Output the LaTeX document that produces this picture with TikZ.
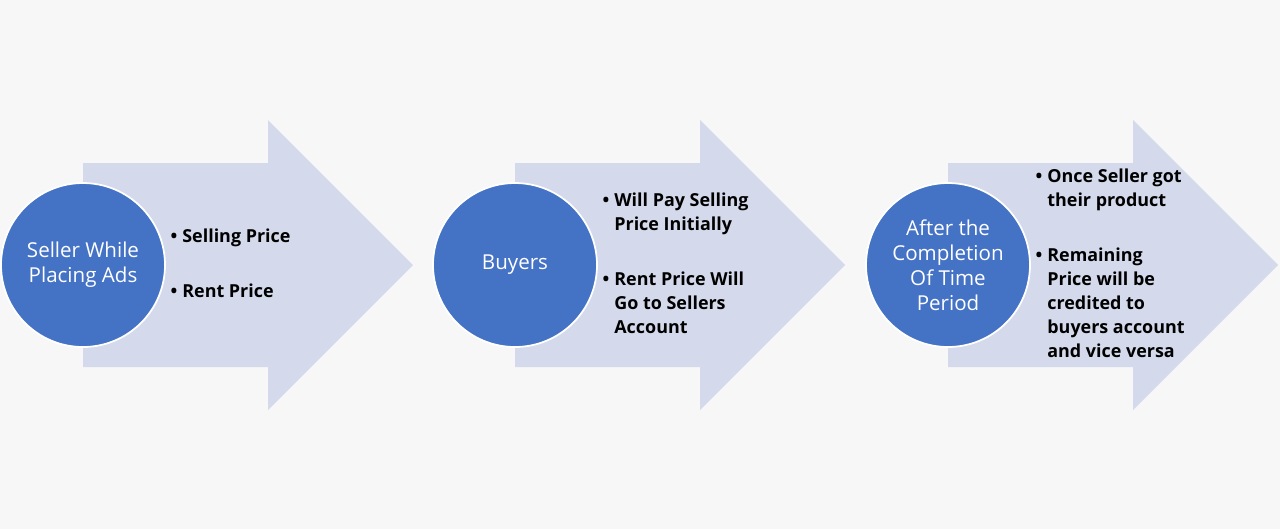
\documentclass[tikz,border=0pt]{standalone}
\usepackage{fontspec}
\setmainfont{Open Sans}
\usetikzlibrary{positioning}
\definecolor{bgGray}{HTML}{F7F7F7}
\definecolor{arrowFill}{HTML}{D4D9EB}
\definecolor{circleBlue}{HTML}{4472C4}
\tikzset{
  stage/.style={
    circle,
    fill=circleBlue,
    draw=white, line width=1pt,
    minimum size=3.28cm,
    inner sep=0pt,
    text=white,
    align=center,
    font=\fontsize{11.7}{14.3}\selectfont},
  points/.style={
    anchor=west,
    inner sep=0pt,
    font=\fontsize{10.2}{13.6}\selectfont\bfseries},
  bigarrow/.style={fill=arrowFill},
}

\begin{document}
\begin{tikzpicture}[x=0.02cm, y=-0.02cm, node distance=0.09cm]
     \fill[bgGray] (0,0) rectangle (1280,529);
     \foreach \dx in {0,432,865}
       \fill[bigarrow] (83+\dx,163) -- (268+\dx,163) -- (268+\dx,120) -- (413+\dx,265)
         -- (268+\dx,410) -- (268+\dx,367) -- (83+\dx,367) -- cycle;
     \node[stage] (Seller)     at (83,265)  {Seller While\\Placing Ads};
     \node[stage] (Buyers)     at (515,265) {Buyers};
     \node[stage] (Completion) at (948,265) {After the\\Completion\\Of Time\\Period};
     \node[points, right=of Seller] (SellerPoints) {%
       \begin{tabular}{@{}l@{\hspace{2.8pt}}l@{}}
         \textbullet & Selling Price\\[18pt]
         \textbullet & Rent Price
       \end{tabular}};
     \node[points, right=of Buyers] (BuyersPoints) {%
       \begin{tabular}{@{}l@{\hspace{2.8pt}}l@{}}
         \textbullet & Will Pay Selling\\
                     & Price Initially\\[18pt]
         \textbullet & Rent Price Will\\
                     & Go to Sellers\\
                     & Account
       \end{tabular}};
     \node[points, right=of Completion] (CompletionPoints) {%
       \begin{tabular}{@{}l@{\hspace{2.8pt}}l@{}}
         \textbullet & Once Seller got\\
                     & their product\\[18pt]
         \textbullet & Remaining\\
                     & Price will be\\
                     & credited to\\
                     & buyers account\\
                     & and vice versa
       \end{tabular}};
\end{tikzpicture}
\end{document}
